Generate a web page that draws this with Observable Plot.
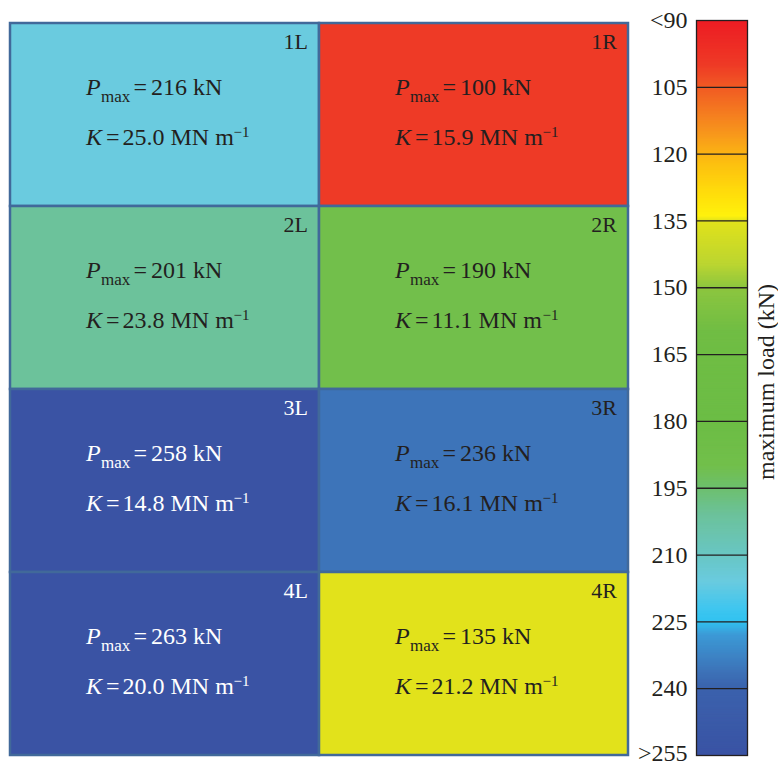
<!DOCTYPE html>
<html>
<head>
<meta charset="utf-8">
<script src="https://cdn.jsdelivr.net/npm/d3@7"></script>
<script src="https://cdn.jsdelivr.net/npm/@observablehq/plot@0.6"></script>
<style>
  html, body { margin: 0; padding: 0; background: #fff; }
  #wrap { position: relative; width: 778px; height: 765px; overflow: hidden; }
  #wrap svg { position: absolute; top: 0; display: block; }
</style>
</head>
<body>
<div id="wrap"></div>
<script>
// ---- data ----
const rows = ["1", "2", "3", "4"];
const sides = ["L", "R"];
const loadsL = [216, 201, 258, 263];     // P_max, kN
const loadsR = [100, 190, 236, 135];
const stiffL = ["25.0", "23.8", "14.8", "20.0"]; // K, MN m^-1
const stiffR = ["15.9", "11.1", "16.1", "21.2"];
const colorTicks = [90, 105, 120, 135, 150, 165, 180, 195, 210, 225, 240, 255];
const tickLabels = ["<90", "105", "120", "135", "150", "165", "180", "195", "210", "225", "240", ">255"];
const colorStops = [90, 100, 105, 115, 122, 130, 134, 135, 145, 150, 160, 180, 190, 195, 201, 210, 216, 222, 225, 228, 236, 240, 255];
const colorRange = ["#ed1c24", "#ee3a26", "#f15a24", "#f7941d", "#fdbf10", "#ffe20b", "#fff10d", "#e2e21b",
  "#bad531", "#8dc63f", "#70bd44", "#6cbd45", "#72bf4b", "#6dbf6d", "#6cc29b", "#69c6c3", "#6acbdf",
  "#40c6ef", "#31c2f0", "#3c9ad6", "#3d74b9", "#3b62ad", "#3a53a4"];

// ---- table ----
const cells = [];
rows.forEach((r, i) => {
  cells.push({row: r, side: "L", load: loadsL[i], k: stiffL[i]});
  cells.push({row: r, side: "R", load: loadsR[i], k: stiffR[i]});
});
const tickTable = colorTicks.map((v, i) => ({v, label: tickLabels[i]}));

const serif = "'Liberation Serif', 'Times New Roman', Times, serif";
const ink = "#231f20";
const colorScale = {type: "linear", domain: colorStops, range: colorRange, clamp: true};

const A = -79;   // left of text block relative to cell centre
const DP = -20;  // P line baseline
const DK = 30;   // K line baseline

function textMarks(filter, color) {
  const base = {x: "side", y: "row", filter, fill: color, fontFamily: serif,
    lineAnchor: "bottom", textAnchor: "start"};
  return [
    Plot.text(cells, {...base, text: () => "P", fontStyle: "italic", fontSize: 24, dx: A, dy: DP}),
    Plot.text(cells, {...base, text: () => "max", fontSize: 17, dx: A + 15, dy: DP + 7}),
    Plot.text(cells, {...base, text: () => "=", fontSize: 24, dx: A + 47.5, dy: DP}),
    Plot.text(cells, {...base, text: d => `${d.load} kN`, fontSize: 24, dx: A + 65, dy: DP}),
    Plot.text(cells, {...base, text: () => "K", fontStyle: "italic", fontSize: 24, dx: A, dy: DK}),
    Plot.text(cells, {...base, text: () => "=", fontSize: 24, dx: A + 20, dy: DK}),
    Plot.text(cells, {...base, text: d => `${d.k} MN m`, fontSize: 24, dx: A + 36.5, dy: DK}),
    Plot.text(cells, {...base, text: () => "\u22121", fontSize: 15, dx: A + 147.5, dy: DK - 8}),
    Plot.text(cells, {...base, text: d => d.row + d.side, fontSize: 22, textAnchor: "end", dx: 143, dy: -66})
  ];
}

const dark = d => d.load > 245;

const main = Plot.plot({
  width: 632,
  height: 765,
  marginLeft: 10,
  marginRight: 4,
  marginTop: 22,
  marginBottom: 10,
  style: {fontFamily: serif, background: "transparent"},
  x: {type: "band", domain: sides, padding: 0, axis: null},
  y: {type: "band", domain: rows, padding: 0, axis: null},
  color: colorScale,
  marks: [
    Plot.cell(cells, {x: "side", y: "row", fill: "load", stroke: "#41699a", strokeWidth: 2.5}),
    ...textMarks(d => !dark(d), ink),
    ...textMarks(dark, "#ffffff")
  ]
});

const step = 0.25;
const bar = Plot.plot({
  width: 148,
  height: 765,
  marginLeft: 66,
  marginRight: 31,
  marginTop: 20,
  marginBottom: 10,
  style: {fontFamily: serif, fontSize: "24px", color: ink, background: "transparent"},
  x: {domain: [0, 1], axis: null},
  y: {domain: [90, 255], reverse: true, axis: null},
  color: colorScale,
  marks: [
    // colour ramp sampled from the colour scale (overlapping strips avoid seams)
    Plot.rect(d3.range(90, 255, step), {x1: 0, x2: 1, y1: d => d, y2: d => Math.min(255, d + 2 * step),
      fill: d => d + step / 2}),
    Plot.ruleY(colorTicks.slice(1, -1), {stroke: ink, strokeWidth: 1.3}),
    Plot.frame({stroke: ink, strokeWidth: 1.3}),
    Plot.text(tickTable, {y: "v", text: "label", frameAnchor: "left", textAnchor: "end",
      dx: -9, dy: 0, fontSize: 24, fill: ink, fontFamily: serif,
      filter: d => d.v < 255}),
    Plot.text(tickTable, {y: "v", text: "label", frameAnchor: "left", textAnchor: "end",
      dx: -9, dy: -2, fontSize: 24, fill: ink, fontFamily: serif,
      filter: d => d.v >= 255}),
    Plot.text(["maximum load (kN)"], {text: d => d, frameAnchor: "right", textAnchor: "middle",
      lineAnchor: "middle", rotate: -90, dx: 19, dy: -6, fontSize: 24, fill: ink, fontFamily: serif})
  ]
});

main.style.left = "0px";
bar.style.left = "630px";
document.getElementById("wrap").append(main, bar);
</script>
</body>
</html>
